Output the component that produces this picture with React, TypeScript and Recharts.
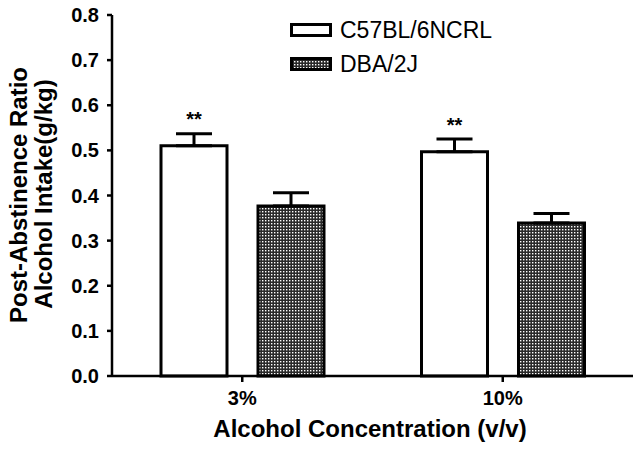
import { BarChart, Bar, XAxis, YAxis, ErrorBar, LabelList } from "recharts";

const categories = ["3%", "10%"];
const c57Mean = [0.51, 0.497];
const c57Sem = [0.027, 0.028];
const dbaMean = [0.377, 0.339];
const dbaSem = [0.029, 0.021];
const significance = ["**", "**"];
const yTicks = [0, 0.1, 0.2, 0.3, 0.4, 0.5, 0.6, 0.7, 0.8];

const data = categories.map((c, i) => ({
  name: c,
  c57: c57Mean[i],
  c57Err: [0, c57Sem[i]],
  dba: dbaMean[i],
  dbaErr: [0, dbaSem[i]],
  sig: significance[i],
}));

const font = "'Liberation Sans', Arial, sans-serif";

const renderSig = (props: any) => {
  const { x, y, width, value } = props;
  return (
    <text x={x + width / 2} y={y - 20} textAnchor="middle" fontSize={20} fontWeight="bold" fontFamily={font} fill="#000">
      {value}
    </text>
  );
};

const YLabel = () => (
  <g fontFamily={font} fontWeight="bold" fontSize={24} fill="#000">
    <text transform="translate(27,195) rotate(-90)" textAnchor="middle">Post-Abstinence Ratio</text>
    <text transform="translate(52,194) rotate(-90)" textAnchor="middle">Alcohol Intake(g/kg)</text>
  </g>
);

const XLabel = () => (
  <text x={370} y={437} textAnchor="middle" fontFamily={font} fontWeight="bold" fontSize={24} fill="#000">
    Alcohol Concentration (v/v)
  </text>
);

export default function App() {
  return (
    <div style={{ position: "absolute", left: 0, top: 0, width: 641, height: 450, background: "#fff" }}>
      <BarChart
        width={641}
        height={450}
        data={data}
        margin={{ top: 15, right: 8, bottom: 0, left: 0 }}
        barGap={31}
        barSize={66}
      >
        <defs>
          <pattern id="dots" patternUnits="userSpaceOnUse" width={3} height={3}>
            <rect width={3} height={3} fill="#2a2a2a" />
            <rect x={1} y={1} width={1.4} height={1.4} fill="#fff" />
          </pattern>
        </defs>
        <XAxis
          dataKey="name"
          height={74}
          axisLine={{ stroke: "#000", strokeWidth: 2.5 }}
          tickLine={{ stroke: "#000", strokeWidth: 2.5 }}
          tickSize={6}
          tickMargin={9}
          tick={{ fill: "#000", fontSize: 20, fontWeight: "bold", fontFamily: font }}
          label={<XLabel />}
        />
        <YAxis
          width={112}
          domain={[0, 0.8]}
          ticks={yTicks}
          interval={0}
          tickFormatter={(v: number) => v.toFixed(1)}
          axisLine={{ stroke: "#000", strokeWidth: 2.5 }}
          tickLine={{ stroke: "#000", strokeWidth: 2.5 }}
          tickSize={5}
          tickMargin={8}
          tick={{ fill: "#000", fontSize: 20, fontWeight: "bold", fontFamily: font }}
          label={<YLabel />}
        />
        <Bar dataKey="c57" fill="#fff" stroke="#000" strokeWidth={3} isAnimationActive={false}>
          <ErrorBar dataKey="c57Err" direction="y" width={18} stroke="#000" strokeWidth={3} />
          <LabelList dataKey="sig" content={renderSig} />
        </Bar>
        <Bar dataKey="dba" fill="url(#dots)" stroke="#000" strokeWidth={3} isAnimationActive={false}>
          <ErrorBar dataKey="dbaErr" direction="y" width={18} stroke="#000" strokeWidth={3} />
        </Bar>
      </BarChart>
      <div style={{ position: "absolute", left: 290, top: 13, fontFamily: font, fontSize: 23, color: "#000", lineHeight: "34px" }}>
        <div style={{ display: "flex", alignItems: "center" }}>
          <span style={{ display: "inline-block", width: 36, height: 8, border: "3px solid #000", background: "#fff", marginRight: 8 }} />
          C57BL/6NCRL
        </div>
        <div style={{ display: "flex", alignItems: "center" }}>
          <svg width={42} height={14} style={{ marginRight: 8 }}>
            <rect x={1.5} y={1.5} width={39} height={11} fill="url(#dots)" stroke="#000" strokeWidth={3} />
          </svg>
          DBA/2J
        </div>
      </div>
    </div>
  );
}
